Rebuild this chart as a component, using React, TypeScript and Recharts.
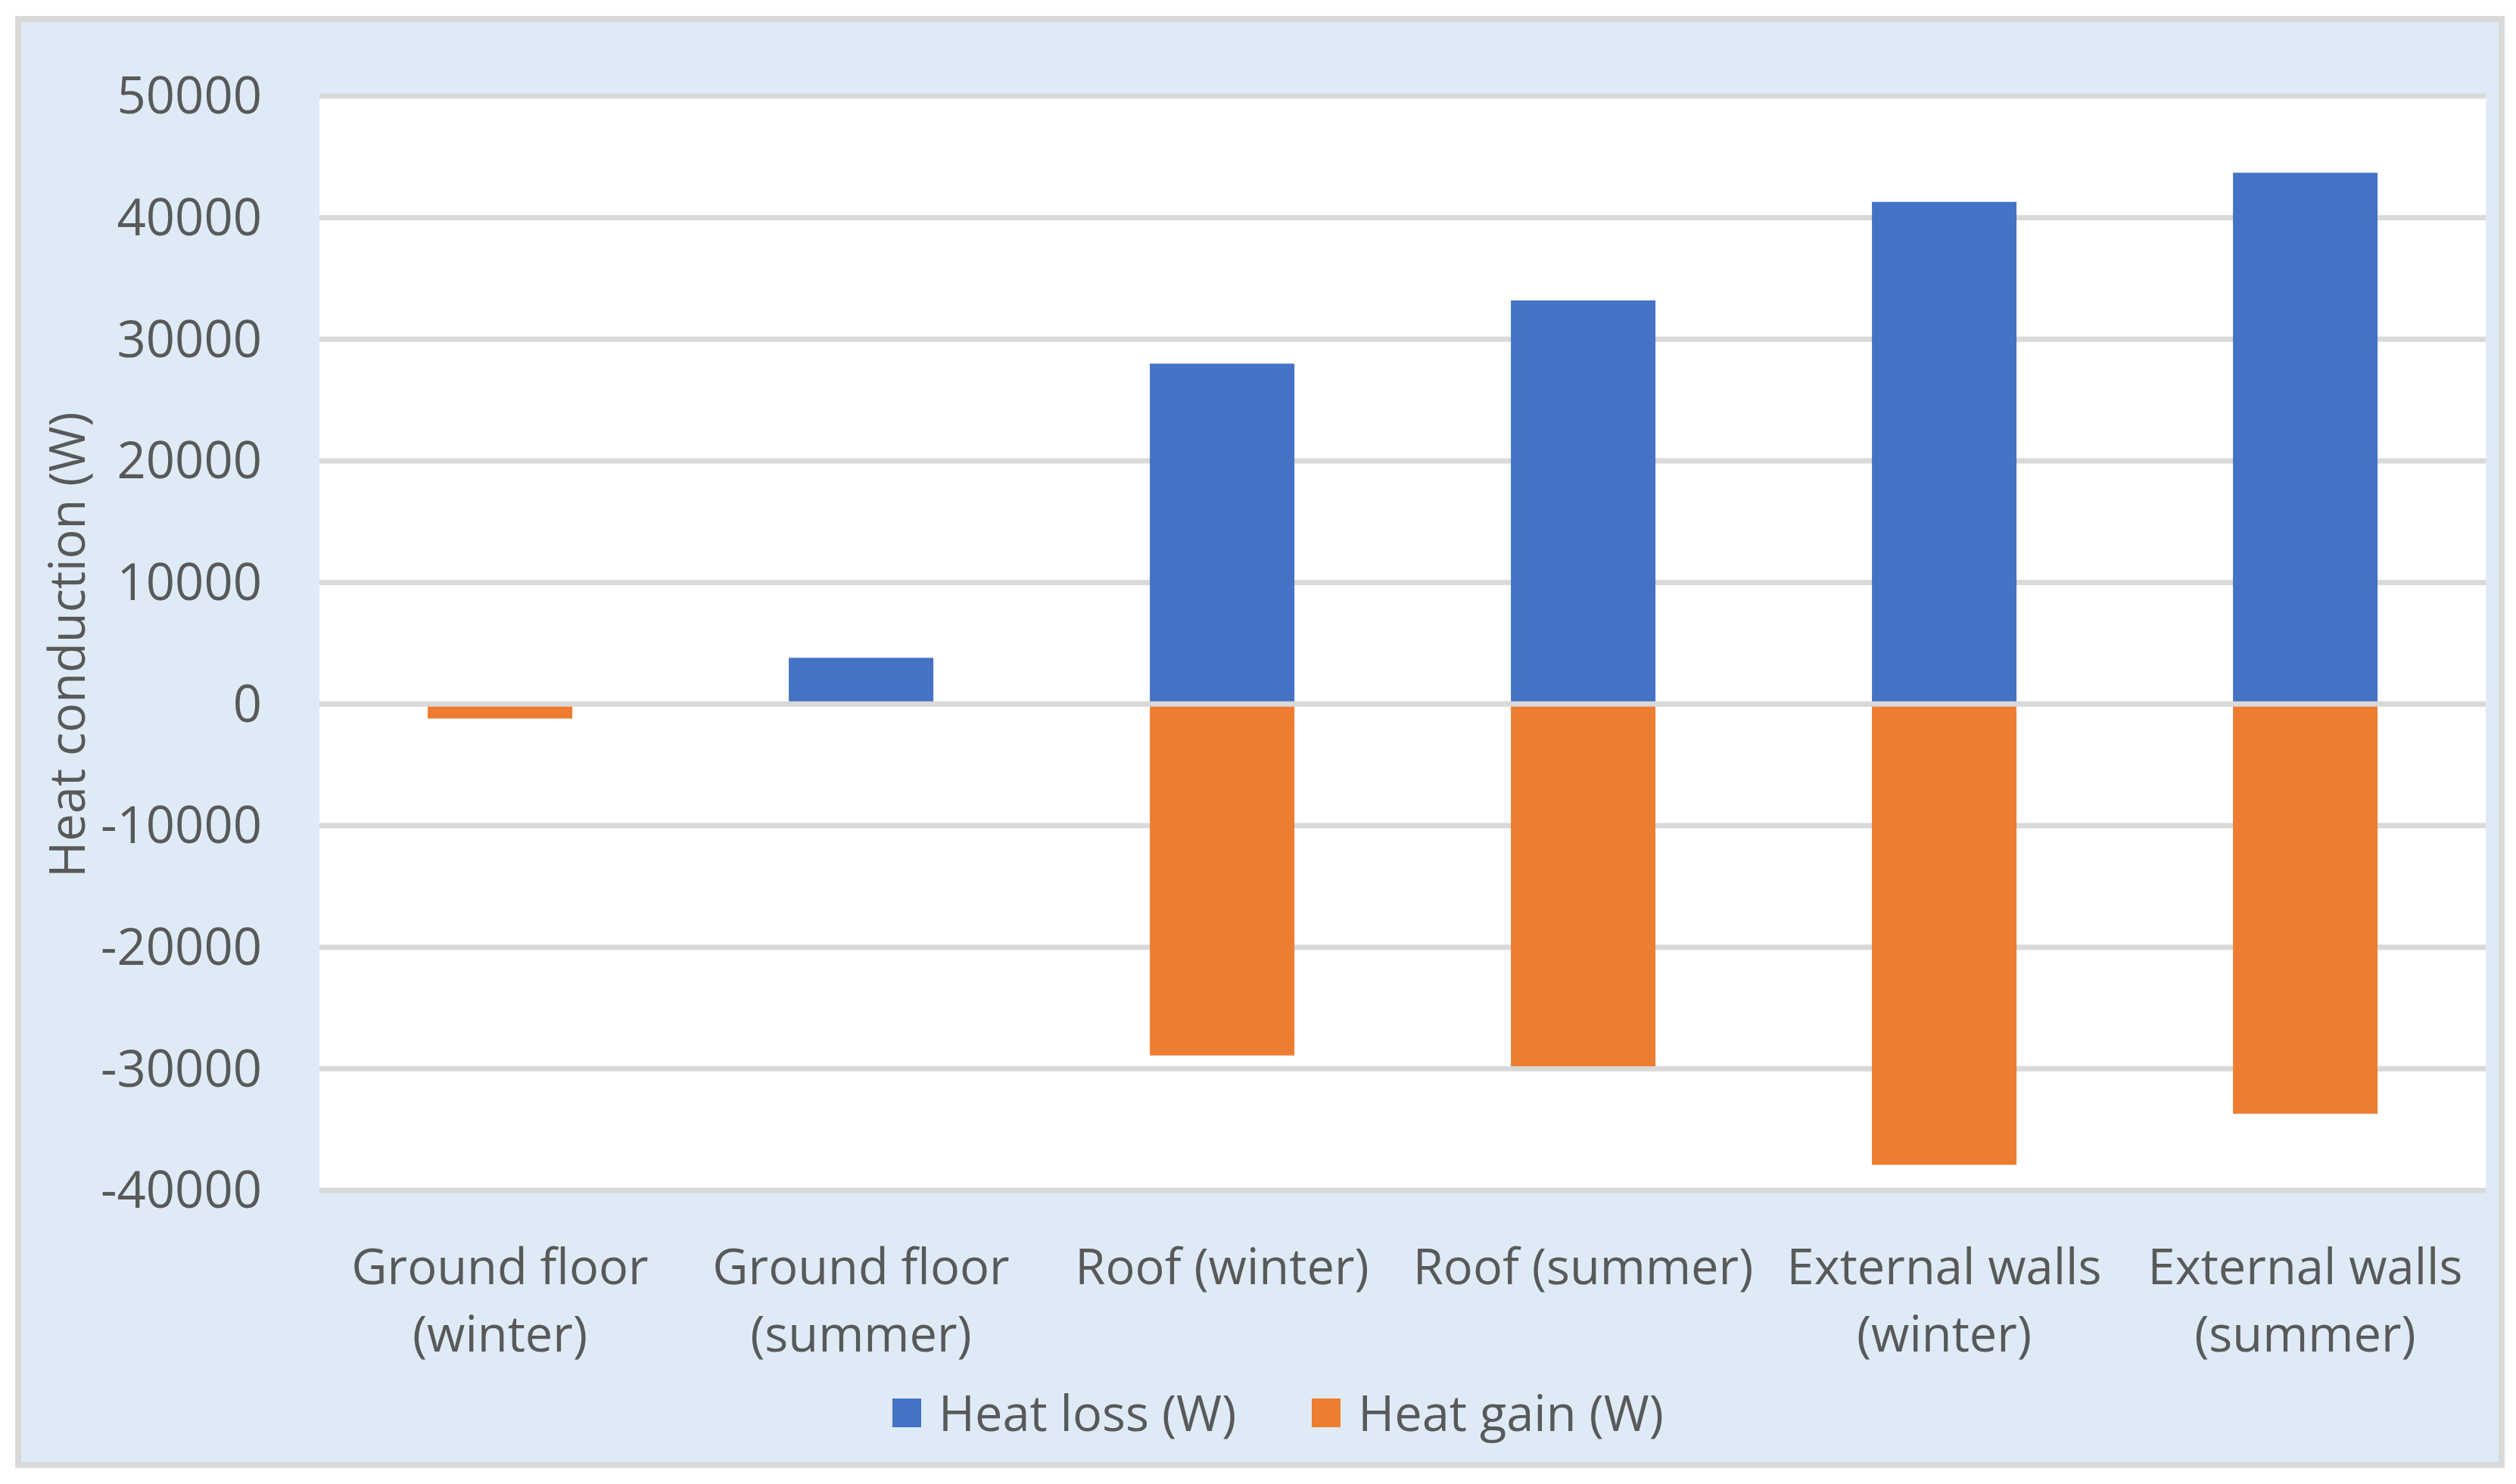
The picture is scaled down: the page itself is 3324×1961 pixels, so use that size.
import React from "react";
import { BarChart, Bar, XAxis, YAxis, CartesianGrid, ReferenceLine, Legend, Label } from "recharts";

const categories = [
  "Ground floor (winter)",
  "Ground floor (summer)",
  "Roof (winter)",
  "Roof (summer)",
  "External walls (winter)",
  "External walls (summer)",
];
const heatLoss = [0, 3800, 28000, 33200, 41300, 43700];
const heatGain = [-1200, 0, -28900, -29800, -37900, -33700];
const yTicks = [50000, 40000, 30000, 20000, 10000, 0, -10000, -20000, -30000, -40000];
const seriesNames = ["Heat loss (W)", "Heat gain (W)"];
const seriesColors = ["#4472C4", "#ED7D31"];
const yTitle = "Heat conduction (W)";

const data = categories.map((c, i) => ({ name: c, loss: heatLoss[i], gain: heatGain[i] }));

const FONT = "'Open Sans', 'Noto Sans', sans-serif";
const TEXT = "#595959";
const FS = 65;

const YTick = (props: any) => {
  const { x, y, payload } = props;
  return (
    <text x={x - 68} y={y} dy="0.35em" textAnchor="end" fill={TEXT} fontSize={67} fontFamily={FONT}>
      {payload.value}
    </text>
  );
};

const XTick = (props: any) => {
  const { x, y, payload } = props;
  const label: string = payload.value;
  const idx = label.indexOf(" (");
  const lines = label.length > 13 && idx > 0 ? [label.slice(0, idx), label.slice(idx + 1)] : [label];
  return (
    <text x={x} y={y} textAnchor="middle" fill={TEXT} fontSize={FS} fontFamily={FONT}>
      {lines.map((l, i) => (
        <tspan key={i} x={x} y={y + 116 + i * 89}>
          {l}
        </tspan>
      ))}
    </text>
  );
};

const LegendContent = () => (
  <div style={{ position: "absolute", left: 1179, top: 0, display: "flex", alignItems: "center", fontFamily: FONT, fontSize: FS, color: TEXT, whiteSpace: "nowrap", lineHeight: 1 }}>
    {seriesNames.map((n, i) => (
      <div key={n} style={{ display: "flex", alignItems: "center", marginRight: i === 0 ? 100 : 0 }}>
        <div style={{ width: 38, height: 38, background: seriesColors[i], marginRight: 23 }} />
        <span>{n}</span>
      </div>
    ))}
  </div>
);

export default function App() {
  return (
    <div style={{ position: "relative", width: 3324, height: 1961, background: "#ffffff", overflow: "hidden" }}>
      <style>{"body{margin:0}"}</style>
      <div
        style={{
          position: "absolute",
          left: 20,
          top: 21,
          width: 3289,
          height: 1919,
          background: "#DEEBF7",
          border: "8px solid #D9D9D9",
          boxSizing: "border-box",
        }}
      />
      <div style={{ position: "absolute", left: 0, top: 0 }}>
        <BarChart
          width={3324}
          height={1961}
          data={data}
          stackOffset="sign"
          barCategoryGap="30%"
          margin={{ top: 127, right: 40, bottom: 288, left: 122 }}
        >
          <CartesianGrid vertical={false} stroke="#D9D9D9" strokeWidth={7} fill="#FFFFFF" />
          <XAxis dataKey="name" axisLine={false} tickLine={false} interval={0} height={100} tick={<XTick />} />
          <YAxis
            type="number"
            domain={[-40000, 50000]}
            ticks={yTicks}
            interval={0}
            axisLine={false}
            tickLine={false}
            width={300}
            tick={<YTick />}
          >
            <Label
              content={() => (
                <text x={89} y={852} transform="rotate(-90 89 852)" textAnchor="middle" dy="0.35em" fill={TEXT} fontSize={FS} fontFamily={FONT}>
                  {yTitle}
                </text>
              )}
            />
          </YAxis>
          <Bar dataKey="loss" name={seriesNames[0]} stackId="a" fill={seriesColors[0]} isAnimationActive={false} />
          <Bar dataKey="gain" name={seriesNames[1]} stackId="a" fill={seriesColors[1]} isAnimationActive={false} />
          <ReferenceLine y={0} stroke="#D9D9D9" strokeWidth={7} />
          <Legend
            content={<LegendContent />}
            wrapperStyle={{ position: "absolute", left: 0, top: 1834, width: 3324, height: 0, overflow: "visible" }}
          />
        </BarChart>
      </div>
    </div>
  );
}
